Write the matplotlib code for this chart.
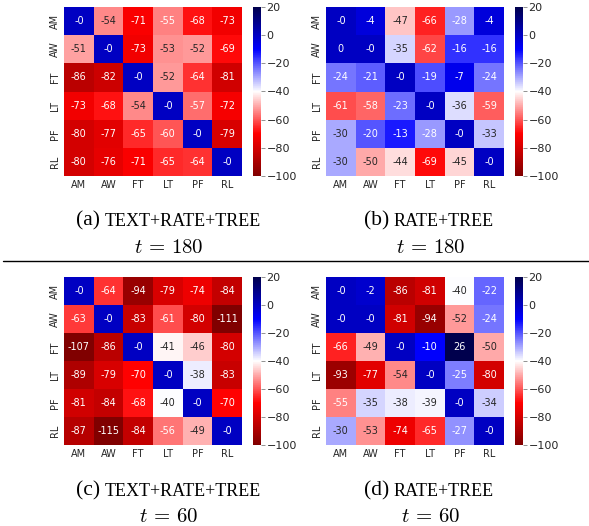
import numpy as np
import matplotlib
matplotlib.use("Agg")
import matplotlib.pyplot as plt
import seaborn as sns

labels = ["AM", "AW", "FT", "LT", "PF", "RL"]

# (a) TEXT+RATE+TREE, t = 180
vals_a = [[-0.0, -54, -71, -55, -68, -73],
          [-51, -0.0, -73, -53, -52, -69],
          [-86, -82, -0.0, -52, -64, -81],
          [-73, -68, -54, -0.0, -57, -72],
          [-80, -77, -65, -60, -0.0, -79],
          [-80, -76, -71, -65, -64, -0.0]]

# (b) RATE+TREE, t = 180
vals_b = [[-0.0, -4, -47, -66, -28, -4],
          [0.0, -0.0, -35, -62, -16, -16],
          [-24, -21, -0.0, -19, -7, -24],
          [-61, -58, -23, -0.0, -36, -59],
          [-30, -20, -13, -28, -0.0, -33],
          [-30, -50, -44, -69, -45, -0.0]]

# (c) TEXT+RATE+TREE, t = 60
vals_c = [[-0.0, -64, -94, -79, -74, -84],
          [-63, -0.0, -83, -61, -80, -111],
          [-107, -86, -0.0, -41, -46, -80],
          [-89, -79, -70, -0.0, -38, -83],
          [-81, -84, -68, -40, -0.0, -70],
          [-87, -115, -84, -56, -49, -0.0]]

# (d) RATE+TREE, t = 60
vals_d = [[-0.0, -2, -86, -81, -40, -22],
          [-0.0, -0.0, -81, -94, -52, -24],
          [-66, -49, -0.0, -10, 26, -50],
          [-93, -77, -54, -0.0, -25, -80],
          [-55, -35, -38, -39, -0.0, -34],
          [-30, -53, -74, -65, -27, -0.0]]

panels = [("(a)", "TEXT+RATE+TREE", r"$t\,=\,180$", vals_a),
          ("(b)", "RATE+TREE", r"$t\,=\,180$", vals_b),
          ("(c)", "TEXT+RATE+TREE", r"$t\,=\,60$", vals_c),
          ("(d)", "RATE+TREE", r"$t\,=\,60$", vals_d)]

sns.set_theme(style="white")
plt.rcParams["mathtext.fontset"] = "cm"

W, H = 589, 526
fig = plt.figure(figsize=(W / 100, H / 100), dpi=100)

def box(x0, y0, x1, y1):
    return [x0 / W, 1 - y1 / H, (x1 - x0) / W, (y1 - y0) / H]

# pixel layout: heat left, colorbar left, top, bottom, tag right edge, name left edge, t centre, caption y, t y
layout = [(64, 253, 7, 176, 100, 105, 169, 221, 247),
          (326, 515, 7, 176, 389, 394, 431, 221, 247),
          (64, 253, 277, 445, 100, 105, 169, 491, 516),
          (326, 515, 277, 445, 389, 394, 431, 491, 516)]

for (tag, name, tlabel, vals), (hx, cx, top, bot, tagx, namex, tx, capy, ty) in zip(panels, layout):
    ax = fig.add_axes(box(hx, top, hx + 178, bot))
    cax = fig.add_axes(box(cx, top, cx + 8, bot))
    sns.heatmap(np.array(vals, dtype=float), ax=ax, cbar_ax=cax, cmap="seismic_r",
                vmin=-100, vmax=20, annot=True, fmt=".0f",
                annot_kws={"size": 7}, xticklabels=labels, yticklabels=labels)
    ax.tick_params(labelsize=7, length=0, pad=3)
    plt.setp(ax.get_yticklabels(), rotation=90, va="center")
    plt.setp(ax.get_xticklabels(), rotation=0)
    cax.tick_params(labelsize=8, length=3, width=0.6, color="0.5", pad=1)
    cax.set_yticks([20, 0, -20, -40, -60, -80, -100])

    fig.text(tagx / W, 1 - capy / H, tag, ha="right", va="center",
             family="Liberation Serif", fontsize=15.5, color="black")
    fig.text(namex / W, 1 - capy / H, name, ha="left", va="center",
             family="Liberation Serif", fontsize=13, color="black")
    fig.text(tx / W, 1 - ty / H, tlabel, ha="center", va="center",
             fontsize=15, color="black")

fig.add_artist(plt.Line2D([3 / W, 1], [1 - 261 / H, 1 - 261 / H],
                          transform=fig.transFigure, color="black", lw=1))

fig.savefig("out.png", dpi=100)
